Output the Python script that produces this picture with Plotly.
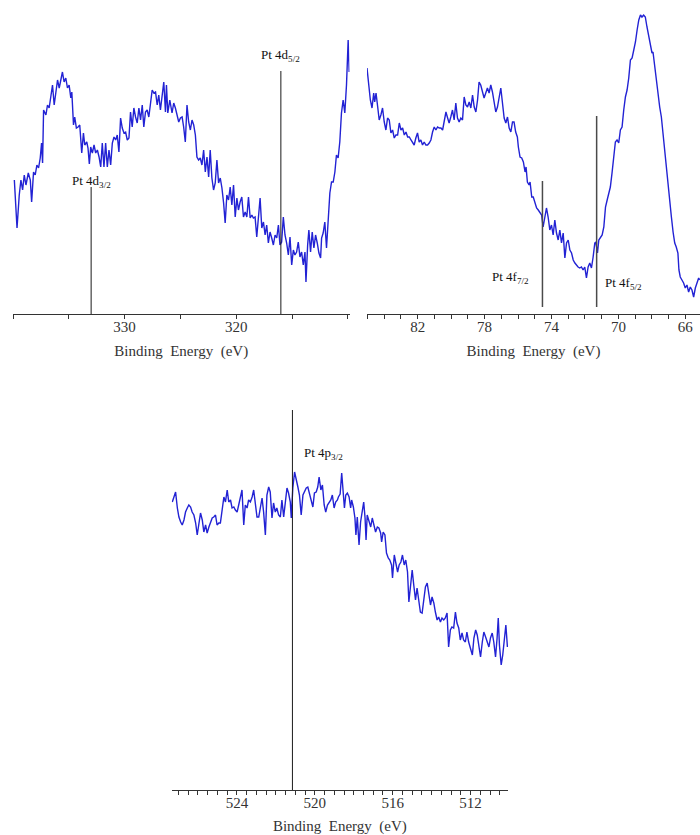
import plotly.graph_objects as go

# ---------------- data: Pt 4d region ----------------
energy_4d = [
    339.88, 339.64, 339.44, 339.29, 339.14, 338.99, 338.84, 338.63, 338.45, 338.33,
    338.16, 338.01, 337.86, 337.71, 337.56, 337.44, 337.35, 337.26, 337.05, 336.91,
    336.76, 336.61, 336.46, 336.31, 336.16, 336.01, 335.86, 335.72, 335.57, 335.42,
    335.27, 335.12, 334.97, 334.82, 334.73, 334.58, 334.47, 334.32, 334.17, 334.02,
    333.93, 333.84, 333.69, 333.57, 333.39, 333.28, 333.16, 333.04, 332.89, 332.74,
    332.59, 332.44, 332.29, 332.14, 332.00, 331.85, 331.70, 331.55, 331.40, 331.25,
    331.10, 330.95, 330.80, 330.66, 330.51, 330.36, 330.21, 330.06, 329.91, 329.76,
    329.61, 329.47, 329.32, 329.17, 329.02, 328.87, 328.72, 328.57, 328.42, 328.28,
    328.13, 327.98, 327.83, 327.68, 327.53, 327.38, 327.23, 327.08, 326.94, 326.79,
    326.64, 326.49, 326.34, 326.25, 326.13, 325.95, 325.75, 325.60, 325.45, 325.30,
    325.15, 325.00, 324.85, 324.71, 324.56, 324.41, 324.26, 324.11, 323.96, 323.81,
    323.66, 323.52, 323.37, 323.22, 323.07, 322.92, 322.77, 322.62, 322.47, 322.33,
    322.18, 322.03, 321.88, 321.73, 321.58, 321.43, 321.28, 321.13, 320.99, 320.84,
    320.69, 320.54, 320.39, 320.24, 320.09, 319.94, 319.80, 319.65, 319.50, 319.35,
    319.20, 319.05, 318.90, 318.75, 318.60, 318.46, 318.31, 318.16, 318.01, 317.86,
    317.71, 317.56, 317.41, 317.27, 317.12, 316.97, 316.82, 316.67, 316.52, 316.37,
    316.22, 316.08, 315.93, 315.78, 315.63, 315.48, 315.33, 315.18, 315.03, 314.88,
    314.74, 314.59, 314.44, 314.29, 314.14, 313.99, 313.84, 313.75, 313.60, 313.49,
    313.34, 313.19, 313.04, 312.89, 312.74, 312.59, 312.44, 312.35, 312.21, 312.06,
    311.91, 311.76, 311.61, 311.46, 311.31, 311.16, 311.02, 310.87, 310.72, 310.57,
    310.42, 310.27, 310.12, 309.97, 309.88,
]
intensity_4d = [
    134, 86, 119, 134, 124, 139, 129, 141, 134, 112,
    142, 139, 149, 146, 156, 171, 151, 204, 199, 209,
    206, 216, 229, 209, 224, 234, 226, 236, 242, 232,
    236, 226, 229, 216, 222, 189, 197, 186, 187, 189,
    177, 161, 181, 169, 172, 166, 150, 167, 161, 169,
    161, 164, 157, 147, 171, 147, 171, 147, 164, 149,
    171, 177, 174, 179, 162, 196, 186, 181, 182, 174,
    176, 202, 187, 206, 197, 191, 206, 194, 209, 187,
    202, 204, 197, 212, 224, 221, 222, 209, 219, 204,
    219, 232, 202, 229, 201, 214, 201, 211, 206, 197,
    192, 196, 197, 187, 172, 209, 192, 184, 194, 189,
    179, 157, 154, 156, 149, 164, 142, 157, 137, 164,
    136, 124, 131, 154, 131, 136, 126, 111, 91, 119,
    114, 127, 109, 129, 97, 116, 104, 112, 117, 97,
    102, 97, 117, 96, 99, 96, 97, 77, 99, 116,
    86, 92, 79, 89, 71, 82, 76, 69, 79, 76,
    89, 69, 72, 97, 79, 71, 59, 77, 49, 64,
    59, 62, 72, 57, 62, 49, 62, 32, 69, 84,
    62, 82, 66, 79, 71, 61, 56, 76, 81, 92,
    66, 94, 121, 132, 132, 142, 159, 156, 172, 201,
    214, 201, 229, 274, 242,
]

# ---------------- data: Pt 4f region ----------------
energy_4f = [
    85.03, 84.93, 84.83, 84.73, 84.63, 84.57, 84.49, 84.39, 84.30, 84.20,
    84.10, 84.00, 83.90, 83.80, 83.70, 83.60, 83.50, 83.40, 83.30, 83.20,
    83.10, 83.00, 82.90, 82.80, 82.70, 82.60, 82.50, 82.40, 82.31, 82.21,
    82.11, 82.01, 81.91, 81.81, 81.71, 81.61, 81.51, 81.41, 81.31, 81.21,
    81.11, 81.01, 80.91, 80.81, 80.71, 80.61, 80.51, 80.41, 80.31, 80.21,
    80.12, 80.02, 79.92, 79.82, 79.72, 79.62, 79.52, 79.42, 79.32, 79.22,
    79.12, 79.02, 78.92, 78.82, 78.72, 78.62, 78.52, 78.42, 78.33, 78.23,
    78.13, 78.03, 77.93, 77.83, 77.73, 77.63, 77.53, 77.43, 77.33, 77.23,
    77.13, 77.03, 76.93, 76.83, 76.73, 76.63, 76.53, 76.43, 76.33, 76.24,
    76.14, 76.04, 75.98, 75.88, 75.78, 75.68, 75.58, 75.52, 75.44, 75.34,
    75.28, 75.18, 75.09, 74.99, 74.89, 74.79, 74.69, 74.59, 74.50, 74.40,
    74.30, 74.20, 74.10, 74.00, 73.90, 73.80, 73.70, 73.60, 73.50, 73.40,
    73.30, 73.20, 73.10, 73.00, 72.90, 72.80, 72.70, 72.60, 72.51, 72.41,
    72.31, 72.21, 72.11, 72.01, 71.91, 71.81, 71.71, 71.61, 71.51, 71.41,
    71.35, 71.25, 71.17, 71.07, 70.97, 70.87, 70.77, 70.67, 70.58, 70.48,
    70.38, 70.28, 70.18, 70.08, 69.98, 69.88, 69.78, 69.68, 69.58, 69.48,
    69.38, 69.28, 69.18, 69.08, 68.98, 68.88, 68.78, 68.68, 68.59, 68.49,
    68.39, 68.29, 68.19, 68.09, 67.99, 67.93, 67.83, 67.73, 67.63, 67.53,
    67.43, 67.33, 67.23, 67.13, 67.03, 66.93, 66.83, 66.73, 66.63, 66.54,
    66.44, 66.38, 66.30, 66.20, 66.10, 66.00, 65.90, 65.80, 65.70, 65.60,
    65.50, 65.40, 65.30, 65.20, 65.14,
]
intensity_4f = [
    246, 231, 214, 206, 221, 212, 221, 207, 194, 199,
    206, 192, 184, 196, 194, 181, 184, 176, 179, 179,
    191, 184, 186, 179, 182, 177, 177, 174, 171, 169,
    176, 181, 172, 174, 169, 172, 169, 169, 171, 174,
    182, 187, 184, 187, 186, 186, 184, 192, 202, 196,
    191, 197, 204, 194, 211, 196, 192, 196, 194, 217,
    209, 207, 212, 206, 219, 207, 202, 214, 232, 229,
    222, 216, 221, 226, 221, 229, 222, 212, 202, 207,
    217, 226, 211, 196, 191, 197, 186, 182, 192, 192,
    182, 177, 167, 157, 156, 152, 142, 147, 132, 129,
    132, 117, 117, 111, 106, 104, 101, 99, 87, 96,
    106, 97, 84, 89, 79, 94, 81, 74, 84, 71,
    81, 56, 71, 74, 64, 61, 54, 51, 49, 47,
    46, 47, 44, 47, 36, 47, 51, 46, 57, 71,
    72, 61, 74, 77, 79, 87, 107, 114, 119, 127,
    141, 154, 172, 174, 171, 184, 187, 204, 217, 224,
    236, 254, 256, 264, 272, 284, 294, 299, 297, 299,
    297, 287, 279, 271, 261, 262, 247, 232, 219, 207,
    197, 179, 162, 144, 127, 114, 97, 82, 71, 67,
    61, 44, 37, 34, 31, 26, 29, 22, 27, 24,
    17, 26, 31, 36, 34,
]

# ---------------- data: Pt 4p region ----------------
energy_4p = [
    527.32, 527.23, 527.15, 527.06, 526.98, 526.89, 526.81, 526.72, 526.64, 526.55,
    526.47, 526.38, 526.30, 526.21, 526.12, 526.04, 525.95, 525.87, 525.78, 525.70,
    525.61, 525.53, 525.44, 525.36, 525.27, 525.19, 525.10, 525.02, 524.93, 524.85,
    524.76, 524.67, 524.59, 524.50, 524.42, 524.33, 524.25, 524.16, 524.08, 523.99,
    523.91, 523.82, 523.74, 523.65, 523.57, 523.48, 523.40, 523.31, 523.22, 523.14,
    523.05, 522.97, 522.88, 522.80, 522.71, 522.63, 522.54, 522.46, 522.37, 522.29,
    522.20, 522.12, 522.03, 521.95, 521.86, 521.77, 521.69, 521.60, 521.52, 521.43,
    521.35, 521.26, 521.21, 521.13, 521.04, 520.96, 520.87, 520.79, 520.70, 520.61,
    520.53, 520.44, 520.36, 520.27, 520.19, 520.10, 520.02, 519.93, 519.85, 519.78,
    519.69, 519.61, 519.52, 519.44, 519.35, 519.27, 519.18, 519.10, 519.01, 518.93,
    518.84, 518.79, 518.70, 518.62, 518.53, 518.48, 518.41, 518.33, 518.24, 518.16,
    518.11, 518.02, 517.94, 517.89, 517.82, 517.73, 517.65, 517.56, 517.49, 517.42,
    517.37, 517.31, 517.22, 517.13, 517.05, 516.96, 516.88, 516.79, 516.71, 516.62,
    516.57, 516.49, 516.40, 516.32, 516.23, 516.15, 516.06, 516.01, 515.92, 515.84,
    515.75, 515.67, 515.58, 515.50, 515.41, 515.33, 515.24, 515.17, 515.09, 515.00,
    514.92, 514.83, 514.75, 514.66, 514.58, 514.49, 514.41, 514.32, 514.23, 514.15,
    514.06, 513.98, 513.89, 513.81, 513.72, 513.64, 513.55, 513.47, 513.38, 513.30,
    513.21, 513.13, 513.04, 512.96, 512.87, 512.78, 512.70, 512.61, 512.53, 512.44,
    512.36, 512.27, 512.19, 512.10, 512.02, 511.91, 511.83, 511.74, 511.66, 511.57,
    511.49, 511.40, 511.32, 511.23, 511.15, 511.06, 510.98, 510.89, 510.81, 510.72,
    510.64, 510.58, 510.52, 510.43, 510.35, 510.26, 510.19, 510.11,
]
intensity_4p = [
    288, 293, 298, 282, 273, 268, 265, 270, 278, 282,
    285, 283, 278, 275, 267, 255, 268, 277, 270, 258,
    265, 257, 263, 268, 272, 273, 275, 265, 267, 267,
    282, 293, 288, 300, 288, 290, 282, 283, 280, 278,
    285, 292, 300, 265, 285, 282, 290, 288, 293, 300,
    285, 273, 273, 282, 292, 278, 255, 295, 303, 298,
    272, 287, 278, 282, 275, 273, 290, 273, 290, 302,
    297, 288, 272, 302, 318, 312, 303, 295, 275, 295,
    298, 302, 303, 295, 288, 283, 297, 298, 303, 313,
    300, 305, 285, 278, 285, 287, 290, 295, 282, 288,
    290, 293, 296, 317, 297, 282, 295, 297, 293, 282,
    290, 283, 272, 255, 273, 245, 268, 280, 288, 272,
    250, 275, 268, 263, 272, 265, 258, 263, 262, 257,
    248, 258, 255, 237, 232, 230, 225, 212, 235, 227,
    218, 225, 228, 235, 225, 230, 218, 188, 207, 220,
    205, 190, 202, 190, 178, 177, 188, 203, 207, 198,
    185, 193, 187, 178, 170, 173, 168, 172, 170, 172,
    177, 143, 160, 163, 162, 178, 167, 162, 150, 157,
    150, 148, 158, 148, 143, 135, 152, 160, 155, 142,
    133, 148, 158, 153, 148, 143, 152, 157, 148, 133,
    152, 172, 145, 125, 135, 155, 165, 143,
]

# ---------------- tick labels ----------------
ticks_4d = [330, 320]
ticks_4f = [82, 78, 74, 70, 66]
ticks_4p = [524, 520, 516, 512]

# ---------------- reference peak markers ----------------
peak_4d_energy = [333.0, 316.0]
peak_4d_height = [127, 243]
peak_4d_label = ["Pt 4d<sub>3/2</sub>", "Pt 4d<sub>5/2</sub>"]

peak_4f_energy = [74.54, 71.3]
peak_4f_height = [133, 198]
peak_4f_label = ["Pt 4f<sub>7/2</sub>", "Pt 4f<sub>5/2</sub>"]

peak_4p_energy = [521.15]
peak_4p_height = [380]
peak_4p_label = ["Pt 4p<sub>3/2</sub>"]

axis_title = "Binding\u00a0 Energy\u00a0 (eV)"

W, H = 700, 835
SERIF = "Liberation Serif, Times New Roman, serif"
CURVE = "#2222d4"


def px(x):
    return x / W


def py(y):
    return 1 - y / H


fig = go.Figure()

# spectra
fig.add_trace(go.Scatter(x=energy_4d, y=intensity_4d, mode="lines",
                         line=dict(color=CURVE, width=1.4), xaxis="x", yaxis="y",
                         showlegend=False, hoverinfo="x+y"))
fig.add_trace(go.Scatter(x=energy_4f, y=intensity_4f, mode="lines",
                         line=dict(color=CURVE, width=1.4), xaxis="x2", yaxis="y2",
                         showlegend=False, hoverinfo="x+y"))
fig.add_trace(go.Scatter(x=energy_4p, y=intensity_4p, mode="lines",
                         line=dict(color=CURVE, width=1.4), xaxis="x3", yaxis="y3",
                         showlegend=False, hoverinfo="x+y"))

# marker lines
for e, h in zip(peak_4d_energy, peak_4d_height):
    fig.add_trace(go.Scatter(x=[e, e], y=[0, h], mode="lines",
                             line=dict(color="#1a1a1a", width=1), xaxis="x", yaxis="y",
                             showlegend=False, hoverinfo="skip"))
for e, h in zip(peak_4f_energy, peak_4f_height):
    fig.add_trace(go.Scatter(x=[e, e], y=[7, h], mode="lines",
                             line=dict(color="#4a4a4a", width=1.5), xaxis="x2", yaxis="y2",
                             showlegend=False, hoverinfo="skip"))
for e, h in zip(peak_4p_energy, peak_4p_height):
    fig.add_trace(go.Scatter(x=[e, e], y=[0, h], mode="lines",
                             line=dict(color="#1a1a1a", width=1), xaxis="x3", yaxis="y3",
                             showlegend=False, hoverinfo="skip"))

label_font = dict(family=SERIF, size=13, color="#111")
annotations = [
    dict(x=peak_4d_energy[0], y=133, xref="x", yref="y", text=peak_4d_label[0],
         showarrow=False, xanchor="center", yanchor="middle", font=label_font),
    dict(x=peak_4d_energy[1], y=259, xref="x", yref="y", text=peak_4d_label[1],
         showarrow=False, xanchor="center", yanchor="middle", font=label_font),
    dict(x=75.24, y=37, xref="x2", yref="y2", text=peak_4f_label[0],
         showarrow=False, xanchor="right", yanchor="middle", font=label_font),
    dict(x=70.94, y=31, xref="x2", yref="y2", text=peak_4f_label[1],
         showarrow=False, xanchor="left", yanchor="middle", font=label_font),
    dict(x=520.66, y=337, xref="x3", yref="y3", text=peak_4p_label[0],
         showarrow=False, xanchor="left", yanchor="middle", font=label_font),
]

tickfont = dict(family=SERIF, size=15, color="#333")
titlefont = dict(family=SERIF, size=15, color="#333")


def xaxis(domain, rng, tickvals, minor_dtick, minor_tick0, anchor):
    return dict(
        domain=domain, range=rng, anchor=anchor, automargin=False,
        showgrid=False, zeroline=False,
        showline=True, linecolor="#333", linewidth=1,
        ticks="outside", ticklen=4, tickwidth=1, tickcolor="#333",
        tickmode="array", tickvals=tickvals, tickfont=tickfont,
        ticklabelstandoff=-5,
        minor=dict(ticks="outside", ticklen=4, tickwidth=1, tickcolor="#333",
                   dtick=minor_dtick, tick0=minor_tick0, showgrid=False),
        title=dict(text=axis_title, font=titlefont, standoff=11),
        fixedrange=True,
    )


def yaxis(domain, rng, anchor):
    return dict(domain=domain, range=rng, anchor=anchor, visible=False,
                fixedrange=True)


fig.update_layout(
    width=W, height=H,
    margin=dict(l=0, r=0, t=0, b=0, autoexpand=False),
    paper_bgcolor="white", plot_bgcolor="white",
    showlegend=False,
    xaxis=xaxis([px(13), px(349.5)], [340.0, 309.85], ticks_4d, 5, 310, "y"),
    yaxis=yaxis([py(314), 1.0], [0, 314], "x"),
    xaxis2=xaxis([px(367), 1.0], [85.03, 65.12], ticks_4f, 1, 66, "y2"),
    yaxis2=yaxis([py(314), 1.0], [0, 314], "x2"),
    xaxis3=xaxis([px(171.7), px(508)], [527.35, 510.08], ticks_4p, 0.5, 512, "y3"),
    yaxis3=yaxis([py(790), py(400)], [0, 390], "x3"),
    annotations=annotations,
)

fig.write_html("out.html")
